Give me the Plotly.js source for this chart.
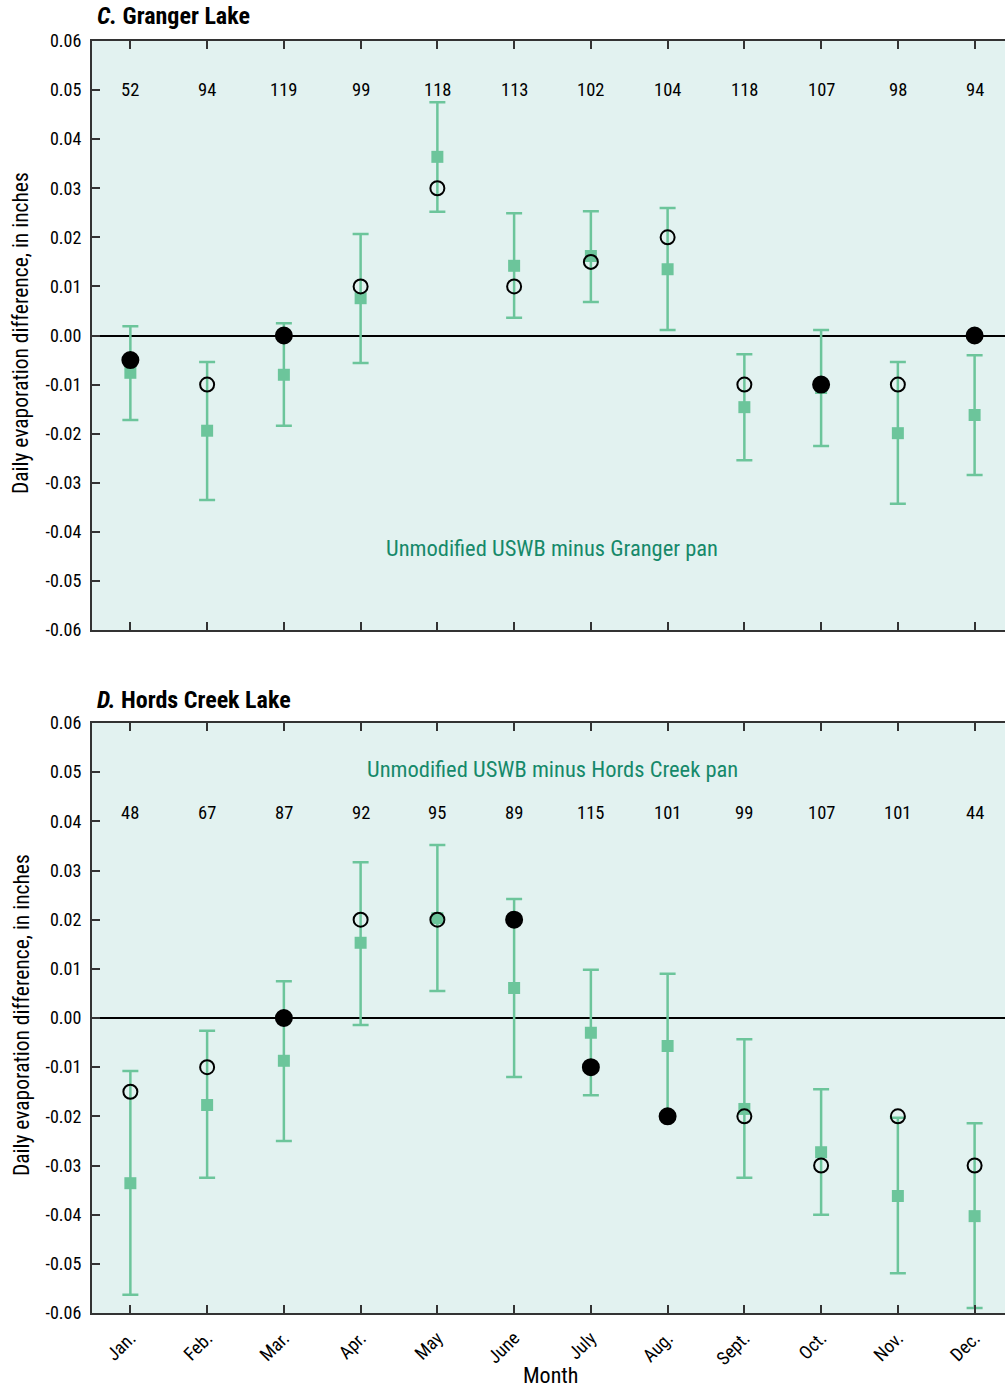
<!DOCTYPE html>
<html>
<head>
<meta charset="utf-8">
<script src="https://cdn.plot.ly/plotly-3.0.1.min.js"></script>
<style>
  html, body { margin: 0; padding: 0; background: #ffffff; }
  #chart { width: 1005px; height: 1388px; }
</style>
</head>
<body>
<div id="chart"></div>
<script>
// Months along the x axis
const months = ['Jan.', 'Feb.', 'Mar.', 'Apr.', 'May', 'June', 'July', 'Aug.', 'Sept.', 'Oct.', 'Nov.', 'Dec.'];

// Y-axis tick values and labels (shared by both panels)
const yTickVals = [0.06, 0.05, 0.04, 0.03, 0.02, 0.01, 0, -0.01, -0.02, -0.03, -0.04, -0.05, -0.06];
const yTickText = ['0.06', '0.05', '0.04', '0.03', '0.02', '0.01', '0.00', '-0.01', '-0.02', '-0.03', '-0.04', '-0.05', '-0.06'];

// C. Granger Lake: mean difference with range, recorded value, day counts
const grangerMean = [-0.0076, -0.0194, -0.0080, 0.0076, 0.0364, 0.0142, 0.0162, 0.0135, -0.0146, -0.0107, -0.0199, -0.0162];
const grangerHigh = [0.0019, -0.0054, 0.0025, 0.0207, 0.0475, 0.0249, 0.0253, 0.0260, -0.0038, 0.0011, -0.0054, -0.0040];
const grangerLow = [-0.0172, -0.0335, -0.0184, -0.0056, 0.0252, 0.0036, 0.0068, 0.0011, -0.0254, -0.0225, -0.0343, -0.0284];
const grangerPoint = [-0.005, -0.01, 0, 0.01, 0.03, 0.01, 0.015, 0.02, -0.01, -0.01, -0.01, 0];
const grangerFilled = [true, false, true, false, false, false, false, false, false, true, false, true];
const grangerCount = [52, 94, 119, 99, 118, 113, 102, 104, 118, 107, 98, 94];

// D. Hords Creek Lake
const hordsMean = [-0.0336, -0.0177, -0.0087, 0.0153, 0.0203, 0.0061, -0.0030, -0.0057, -0.0185, -0.0273, -0.0362, -0.0403];
const hordsHigh = [-0.0108, -0.0026, 0.0075, 0.0317, 0.0352, 0.0242, 0.0098, 0.0090, -0.0043, -0.0145, -0.0203, -0.0214];
const hordsLow = [-0.0563, -0.0325, -0.0250, -0.0014, 0.0055, -0.0120, -0.0157, -0.0195, -0.0325, -0.0400, -0.0519, -0.0590];
const hordsPoint = [-0.015, -0.01, 0, 0.02, 0.02, 0.02, -0.01, -0.02, -0.02, -0.03, -0.02, -0.03];
const hordsFilled = [false, false, true, false, false, true, true, true, false, false, false, false];
const hordsCount = [48, 67, 87, 92, 95, 89, 115, 101, 99, 107, 101, 44];

const FONT = '"Liberation Sans Narrow", "Roboto Condensed", "Arial Narrow", Roboto, sans-serif';
const GREEN = '#6cc59b';
const LABEL_GREEN = '#16896a';
const AXIS = '#333333';
const W = 1005, H = 1388;

// pixel helpers for paper coordinates
const px = v => v / W;
const py = v => 1 - v / H;

function meanTrace(mean, high, low, xa, ya) {
  return {
    type: 'scatter', mode: 'markers', x: months, y: mean,
    xaxis: xa, yaxis: ya,
    marker: { symbol: 'square', size: 12, color: GREEN, opacity: 1 },
    error_y: {
      type: 'data', symmetric: false,
      array: high.map((h, i) => h - mean[i]),
      arrayminus: low.map((l, i) => mean[i] - l),
      color: GREEN, thickness: 2.5, width: 8
    },
    hoverinfo: 'x+y', showlegend: false
  };
}

function pointTrace(vals, filled, xa, ya) {
  return {
    type: 'scatter', mode: 'markers', x: months, y: vals,
    xaxis: xa, yaxis: ya,
    marker: {
      symbol: filled.map(f => f ? 'circle' : 'circle-open'),
      size: filled.map(f => f ? 16 : 14),
      color: '#000000',
      opacity: 1,
      line: { color: '#000000', width: 2 }
    },
    hoverinfo: 'x+y', showlegend: false
  };
}

const data = [
  meanTrace(grangerMean, grangerHigh, grangerLow, 'x', 'y'),
  pointTrace(grangerPoint, grangerFilled, 'x', 'y'),
  meanTrace(hordsMean, hordsHigh, hordsLow, 'x2', 'y2'),
  pointTrace(hordsPoint, hordsFilled, 'x2', 'y2')
];

function xAxis(anchor, showLabels) {
  return {
    anchor: anchor, domain: [px(92), 1],
    type: 'category', range: [-0.5, 11.396],
    showgrid: false, zeroline: false,
    showline: true, linecolor: AXIS, linewidth: 2, mirror: 'ticks',
    ticks: 'inside', ticklen: 8, tickwidth: 2, tickcolor: AXIS,
    showticklabels: showLabels, tickangle: -45, ticklabelstandoff: 5,
    tickfont: { family: FONT, size: 18.5, color: '#000' }
  };
}

function yAxis(anchor, top, bottom) {
  return {
    anchor: anchor, domain: [py(bottom), py(top)],
    range: [-0.06, 0.06], autorange: false,
    tickvals: yTickVals, ticktext: yTickText,
    showgrid: false,
    zeroline: true, zerolinecolor: '#000000', zerolinewidth: 2,
    showline: true, linecolor: AXIS, linewidth: 2, mirror: false,
    ticks: 'inside', ticklen: 8, tickwidth: 2, tickcolor: AXIS,
    ticklabelstandoff: 5,
    tickfont: { family: FONT, size: 18, color: '#000' }
  };
}

const annotations = [];

// Panel titles
annotations.push({
  xref: 'paper', yref: 'paper', x: px(95), y: py(16), xanchor: 'left', yanchor: 'middle',
  text: '<b><i>C.</i> Granger Lake</b>', showarrow: false,
  font: { family: FONT, size: 24, color: '#000' }
});
annotations.push({
  xref: 'paper', yref: 'paper', x: px(95), y: py(700), xanchor: 'left', yanchor: 'middle',
  text: '<b><i>D.</i> Hords Creek Lake</b>', showarrow: false,
  font: { family: FONT, size: 24, color: '#000' }
});

// Y-axis titles
[333, 1015].forEach(c => annotations.push({
  xref: 'paper', yref: 'paper', x: px(21), y: py(c), xanchor: 'center', yanchor: 'middle',
  text: 'Daily evaporation difference, in inches', textangle: -90, showarrow: false,
  font: { family: FONT, size: 21.5, color: '#000' }
}));

// X-axis title
annotations.push({
  xref: 'paper', yref: 'paper', x: px(550), y: py(1375), xanchor: 'center', yanchor: 'middle',
  text: 'Month', showarrow: false,
  font: { family: FONT, size: 22, color: '#000' }
});

// Day counts above each month
months.forEach((m, i) => {
  annotations.push({
    xref: 'x', yref: 'y', x: m, y: 0.05, text: String(grangerCount[i]), showarrow: false,
    font: { family: FONT, size: 18.5, color: '#000' }
  });
  annotations.push({
    xref: 'x2', yref: 'y2', x: m, y: 0.0417, text: String(hordsCount[i]), showarrow: false,
    font: { family: FONT, size: 18.5, color: '#000' }
  });
});

// Panel labels for the comparison
annotations.push({
  xref: 'x', yref: 'y', x: 5.5, y: -0.0433, text: 'Unmodified USWB minus Granger pan', showarrow: false,
  font: { family: FONT, size: 22.5, color: LABEL_GREEN }
});
annotations.push({
  xref: 'x2', yref: 'y2', x: 5.5, y: 0.0507, text: 'Unmodified USWB minus Hords Creek pan', showarrow: false,
  font: { family: FONT, size: 22.5, color: LABEL_GREEN }
});

const layout = {
  width: W, height: H,
  margin: { l: 0, r: 0, t: 0, b: 0 },
  paper_bgcolor: '#ffffff',
  plot_bgcolor: '#e2f2f0',
  font: { family: FONT, color: '#000' },
  showlegend: false,
  xaxis: xAxis('y', false),
  yaxis: yAxis('x', 41, 630),
  xaxis2: xAxis('y2', true),
  yaxis2: yAxis('x2', 723, 1313),
  annotations: annotations
};

Plotly.newPlot('chart', data, layout, { displayModeBar: false, staticPlot: true });
</script>
</body>
</html>
